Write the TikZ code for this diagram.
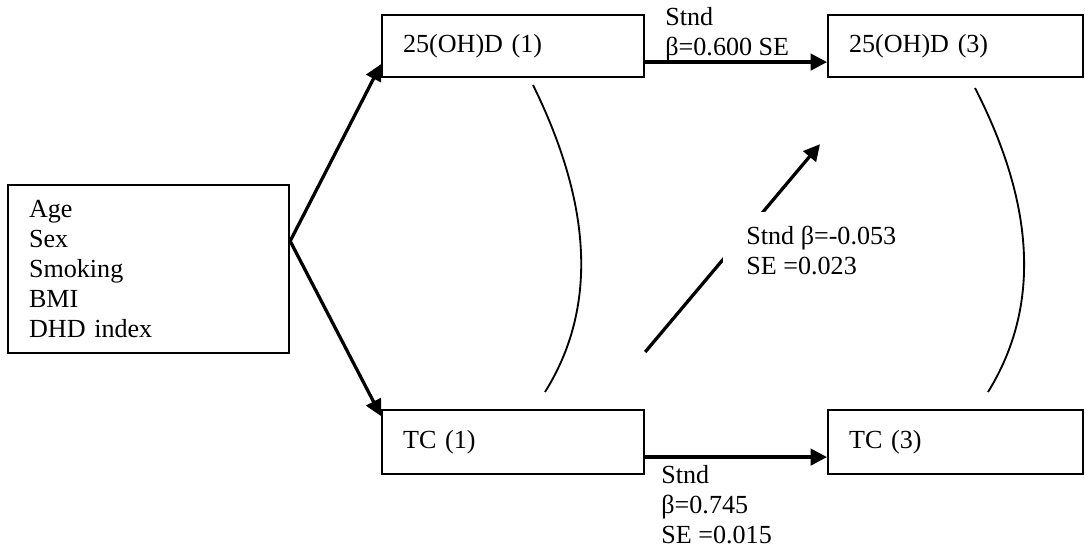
\documentclass[tikz,border=0pt]{standalone}
\usepackage{fontspec}
\setmainfont{Liberation Serif}
\usetikzlibrary{arrows.meta,positioning}
\newcommand{\pxu}{0.46pt}

\begin{document}
\begin{tikzpicture}[
  x=0.46pt, y=-0.46pt,
  every node/.style={font=\fontsize{12pt}{13.8pt}\selectfont},
  box/.style={draw, line width=1pt, anchor=north west, align=left,
    inner xsep=21*\pxu, inner ysep=0pt},
  arr/.style={-{Triangle[length=7.5pt,width=7.5pt]}, line width=1.5pt},
  corr/.style={line width=0.85pt},
  est/.style={align=left, inner sep=0pt, anchor=north west},
]
\useasboundingbox (0,0) rectangle (1085,549);

% Covariates
\node[box, text width=239*\pxu, minimum height=168*\pxu] (cov) at (7,184)
  {Age\\Sex\\Smoking\\BMI\\DHD index};

% Measurements at time 1 and 3
\node[box, text width=220*\pxu, minimum height=62*\pxu] (vd1) at (381,14) {25(OH)D (1)};
\node[box, text width=213*\pxu, minimum height=62*\pxu] (vd3) at (827,14) {25(OH)D (3)};
\node[box, text width=220*\pxu, minimum height=64*\pxu] (tc1) at (381,409) {TC (1)};
\node[box, text width=213*\pxu, minimum height=64*\pxu] (tc3) at (827,409) {TC (3)};

% Paths from covariates
\draw[arr] ([yshift=28*\pxu]cov.east) -- ([yshift=-18*\pxu]vd1.west);
\draw[arr] ([yshift=28*\pxu]cov.east) -- ([yshift=26*\pxu]tc1.west);

% Stability paths
\draw[arr] ([yshift=-16*\pxu]vd1.east) -- ([yshift=-16*\pxu]vd3.west);
\draw[arr] ([yshift=-15*\pxu]tc1.east) -- ([yshift=-15*\pxu]tc3.west);

% Cross-lagged path
\draw[arr] ([yshift=57*\pxu]tc1.north east) -- ([shift={(-7*\pxu,-66*\pxu)}]vd3.south west);

% Correlations
\coordinate (r1a) at (533,85);
\coordinate (r1b) at (545,392);
\coordinate (r3a) at (975,88);
\coordinate (r3b) at (988,392);
\draw[corr] (r1a) .. controls (593,207) and (597,309) .. (r1b);
\draw[corr] (r3a) .. controls (1036,207) and (1040,308) .. (r3b);

% Estimates
\node[est] (est1) at (665,7) {Stnd\\β=0.600 SE};
\node[est] (est2) at (661,465) {Stnd\\β=0.745\\SE =0.015};
\node[est, fill=white, inner xsep=23*\pxu, inner ysep=14*\pxu] (est3) at (723,212)
  {Stnd β=-0.053\\SE =0.023};
\end{tikzpicture}
\end{document}
